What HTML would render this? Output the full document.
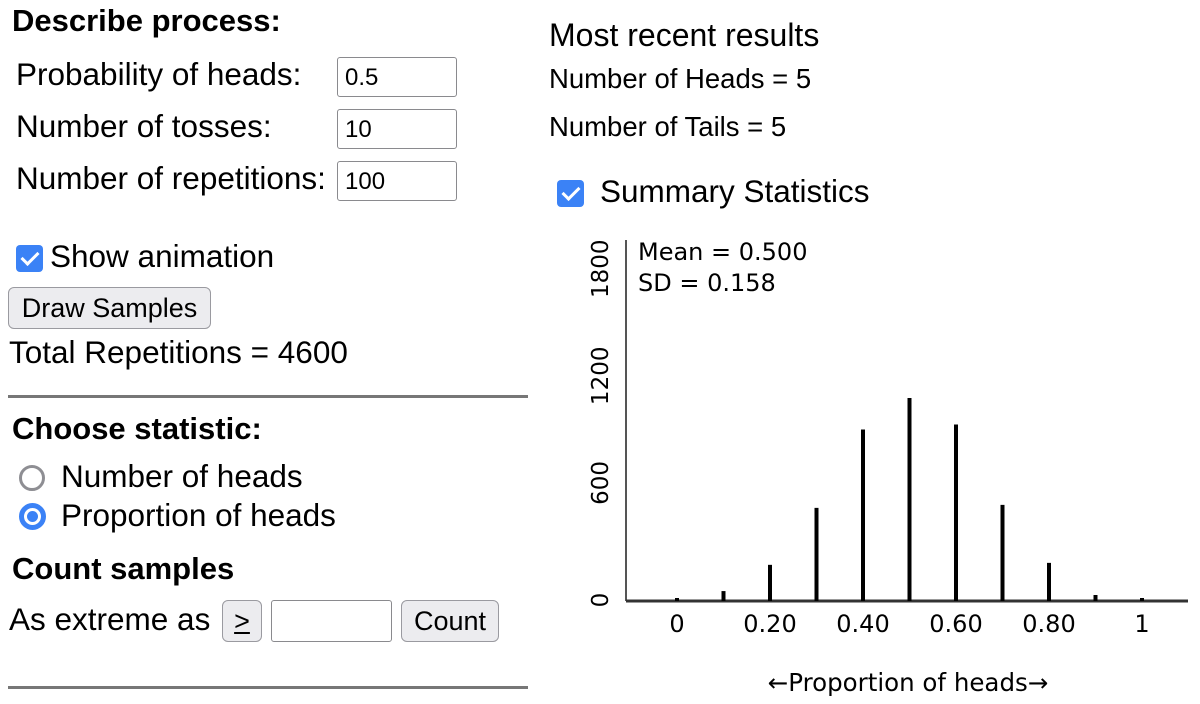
<!DOCTYPE html>
<html><head><meta charset="utf-8"><style>
body{margin:0;width:1200px;height:704px;background:#fff;font-family:"Liberation Sans",Arial,sans-serif;color:#000;position:relative;overflow:hidden}
.a{position:absolute;white-space:nowrap}
.b{font-weight:bold;font-size:31px}
.t{font-size:31.5px}
.inp{position:absolute;border:1.5px solid #8a8a8e;border-radius:3px;background:#fff;font-size:24px;padding-left:7px;box-sizing:border-box;line-height:40px;height:40px}
.btn{position:absolute;border:1.5px solid #9a9aa0;border-radius:6px;background:#ececef;font-size:27px;box-sizing:border-box;text-align:center}
.chk{position:absolute;width:27px;height:27px;background:#3b82f6;border-radius:4px}
.chk:after{content:"";position:absolute;left:9px;top:3px;width:7px;height:14px;border:solid #fff;border-width:0 3px 3px 0;transform:rotate(45deg)}
hr{position:absolute;left:8px;width:520px;margin:0;border:0;height:3px;background:#777}
</style></head><body>
<div class="a b" style="left:12px;top:3px">Describe process:</div>
<div class="a t" style="left:16px;top:56px">Probability of heads:</div>
<div class="inp" style="left:337px;top:57px;width:120px">0.5</div>
<div class="a t" style="left:16px;top:108px">Number of tosses:</div>
<div class="inp" style="left:337px;top:109px;width:120px">10</div>
<div class="a t" style="left:16px;top:160px">Number of repetitions:</div>
<div class="inp" style="left:337px;top:161px;width:120px">100</div>
<div class="chk" style="left:16px;top:245px"></div>
<div class="a t" style="left:50px;top:238px">Show animation</div>
<div class="btn" style="left:8px;top:287px;width:203px;height:42px;line-height:40px">Draw Samples</div>
<div class="a t" style="left:9px;top:334px">Total Repetitions = 4600</div>
<hr style="top:395px">
<div class="a b" style="left:12px;top:411px">Choose statistic:</div>
<div class="a" style="left:19px;top:465px;width:26px;height:26px;border:3px solid #8e8e93;border-radius:50%;box-sizing:border-box"></div>
<div class="a t" style="left:61px;top:458px">Number of heads</div>
<div class="a" style="left:19px;top:503px;width:27px;height:27px;border:5px solid #3b82f6;border-radius:50%;box-sizing:border-box;background:#fff"><div style="position:absolute;left:3px;top:3px;width:11px;height:11px;border-radius:50%;background:#3b82f6"></div></div>
<div class="a t" style="left:61px;top:497px">Proportion of heads</div>
<div class="a b" style="left:12px;top:551px">Count samples</div>
<div class="a t" style="left:9px;top:601px">As extreme as</div>
<div class="btn" style="left:222px;top:600px;width:40px;height:42px;line-height:40px;text-decoration:underline">&gt;</div>
<div class="inp" style="left:271px;top:600px;width:121px;height:42px"></div>
<div class="btn" style="left:401px;top:600px;width:98px;height:42px;line-height:40px">Count</div>
<hr style="top:686px">

<div class="a" style="left:549px;top:17px;font-size:32px">Most recent results</div>
<div class="a" style="left:549px;top:63px;font-size:27.5px">Number of Heads = 5</div>
<div class="a" style="left:549px;top:111px;font-size:27.5px">Number of Tails = 5</div>
<div class="chk" style="left:557px;top:180px"></div>
<div class="a t" style="left:600px;top:173px">Summary Statistics</div>

<svg id="chart" width="1200" height="704" style="position:absolute;left:0;top:0" font-family="DejaVu Sans, sans-serif">
<text x="638" y="260" font-size="24">Mean = 0.500</text>
<text x="638" y="291" font-size="24">SD = 0.158</text>
<text x="908" y="691" font-size="24.5" text-anchor="middle">←Proportion of heads→</text>
</svg>
<script>
const categories=[0,0.1,0.2,0.3,0.4,0.5,0.6,0.7,0.8,0.9,1];
const counts=[5,50,197,516,955,1132,983,533,208,28,4];
const xTicks=[0,0.2,0.4,0.6,0.8,1];
const xTickLabels=["0","0.20","0.40","0.60","0.80","1"];
const yTicks=[0,600,1200,1800];
const NS="http://www.w3.org/2000/svg";
const svg=document.getElementById('chart');
const x=v=>677+v*465;
const y=v=>600-v*0.1785;
function mk(t,a){const e=document.createElementNS(NS,t);for(const k in a)e.setAttribute(k,a[k]);svg.appendChild(e);return e;}
let e=mk('line',{x1:626,y1:240,x2:626,y2:601,stroke:'#555','stroke-width':2});


e=mk('line',{x1:626,y1:601,x2:1188,y2:601,stroke:'#333','stroke-width':3});


categories.forEach((c,i)=>{
  const b=mk('line',{x1:x(c),x2:x(c),y1:601,y2:Math.min(y(counts[i]),598),stroke:'#000','stroke-width':4});
  
  
});
xTicks.forEach((t,i)=>{
  const l=mk('text',{x:x(t),y:632,'font-size':24,'text-anchor':'middle'});l.textContent=xTickLabels[i];
  
  
});
yTicks.forEach(t=>{
  const yy=t===0?600:y(t)-10;
  const l=mk('text',{x:0,y:0,'font-size':23,'text-anchor':'middle',transform:`translate(608,${yy}) rotate(-90)`});l.textContent=t;
  
  
});
</script>
</body></html>
